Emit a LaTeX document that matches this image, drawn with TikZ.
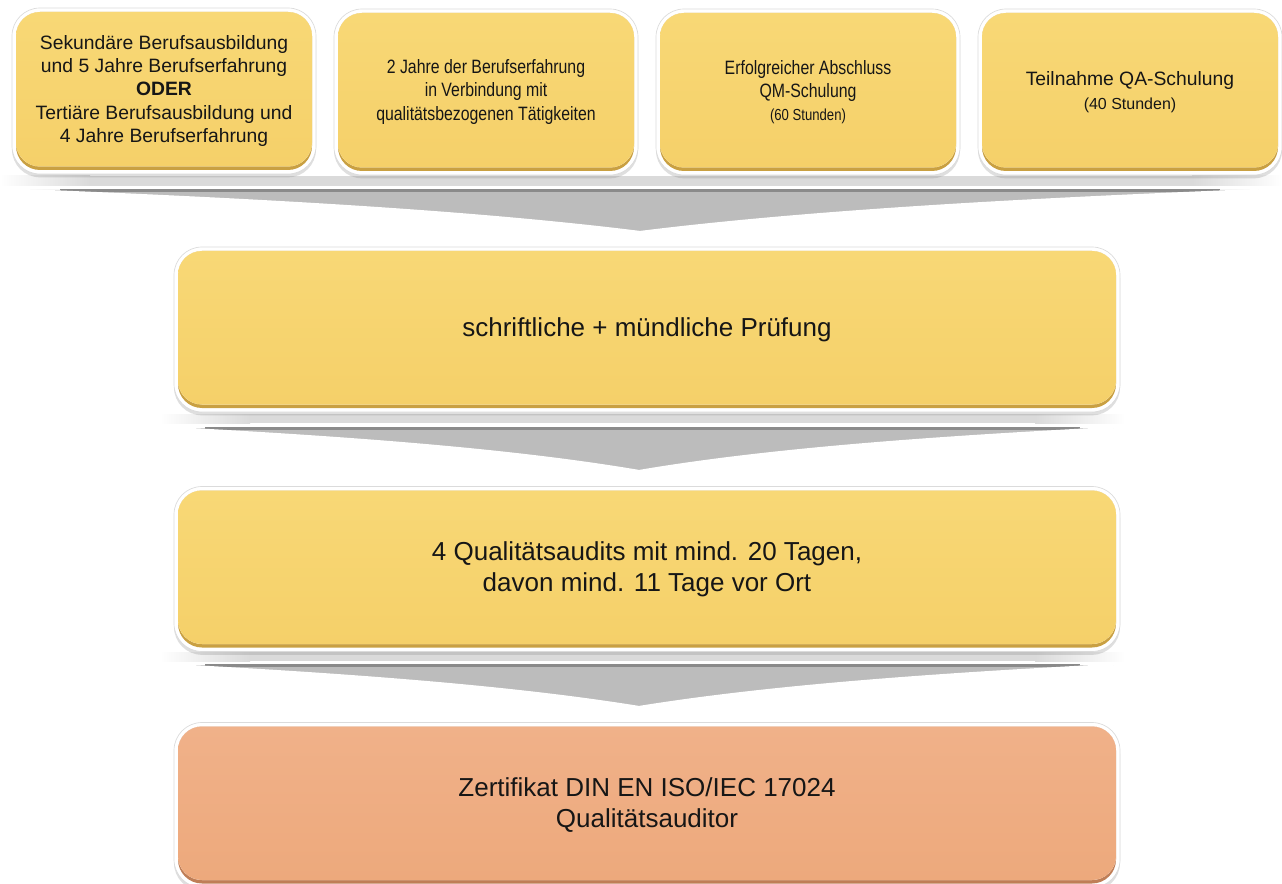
\documentclass[tikz,border=0pt]{standalone}
\usepackage{fontspec}
\setmainfont{Liberation Sans}
\newfontfamily\condfont[FakeStretch=0.82]{Liberation Sans}
\usetikzlibrary{shadows,calc}
\definecolor{ybody}{HTML}{F5D069}
\definecolor{ytop}{HTML}{F8D876}
\definecolor{yrim}{HTML}{C9A042}
\definecolor{obody}{HTML}{EDA97C}
\definecolor{otop}{HTML}{F0B189}
\definecolor{orim}{HTML}{BF7E57}
\definecolor{chevbody}{HTML}{BCBCBC}
\definecolor{chevtop}{HTML}{8A8A8A}
\definecolor{bandgray}{HTML}{DADADA}
\definecolor{txt}{HTML}{161616}
\newcommand\greyband[4]{%
  \fill[bandgray] (#3+90,#1) rectangle (#4-90,#2);
  \shade[left color=white, right color=bandgray] (#3,#1) rectangle (#3+90,#2);
  \shade[left color=bandgray, right color=white] (#4-90,#1) rectangle (#4,#2);}
\tikzset{
  card/.style={rectangle, fill=white, draw=black!14, line width=0.5pt,
    rounded corners=21pt, text=txt, align=center, inner sep=2pt,
    drop shadow={shadow xshift=0pt, shadow yshift=-2.5pt, opacity=0.25},
    path picture={
      \fill[#1rim, rounded corners=18pt]
        ([shift={(4,4)}]path picture bounding box.north west) rectangle
        ([shift={(-4,-4)}]path picture bounding box.south east);
      \fill[top color=#1top, bottom color=#1body, rounded corners=18pt]
        ([shift={(4,4)}]path picture bounding box.north west) rectangle
        ([shift={(-4,-7.5)}]path picture bounding box.south east);
    }},
  topcard/.style={card=y, minimum width=228pt, minimum height=124.5pt,
    font=\fontsize{14.5}{17.5}\selectfont},
  condcard/.style={card=y, minimum width=228pt, minimum height=124.5pt,
    font=\condfont\fontsize{14.5}{17.5}\selectfont},
  widecard/.style={card=#1, minimum width=709.5pt, minimum height=123.75pt,
    font=\fontsize{19.5}{23.4}\selectfont},
  chevfill/.style={fill=chevbody},
  chevline/.style={chevtop, line width=1.6pt},
  chevedge/.style={white, line width=1.6pt},
}
\begin{document}
\begin{tikzpicture}[x=0.75pt,y=-0.75pt]
\useasboundingbox (0,0) rectangle (1282,884);
\fill[white] (0,0) rectangle (1282,884);

% chevron 1
\greyband{176}{186}{0}{1282}
\fill[chevfill] (22,190) -- (1258,190) .. controls (1005,200) and (801,212) .. (640,232)
  .. controls (479,212) and (275,200) .. (22,190) -- cycle;
\draw[chevline] (60,190.5) -- (1220,190.5);
\draw[chevedge] (1258,190) .. controls (1005,200) and (801,212) .. (640,232)
  .. controls (479,212) and (275,200) .. (22,190);

% chevron 2
\greyband{414}{423}{160}{1125}
\fill[chevfill] (172,428) -- (1113,428) .. controls (919,438) and (763,450) .. (639,471)
  .. controls (515,450) and (359,438) .. (172,428) -- cycle;
\draw[chevline] (205,428.5) -- (1080,428.5);
\draw[chevedge] (1113,428) .. controls (919,438) and (763,450) .. (639,471)
  .. controls (515,450) and (359,438) .. (172,428);

% chevron 3
\greyband{652}{661}{160}{1125}
\fill[chevfill] (172,665) -- (1113,665) .. controls (919,675) and (763,687) .. (639,707)
  .. controls (515,687) and (359,675) .. (172,665) -- cycle;
\draw[chevline] (205,665.5) -- (1080,665.5);
\draw[chevedge] (1113,665) .. controls (919,675) and (763,687) .. (639,707)
  .. controls (515,687) and (359,675) .. (172,665);

% top row
\node[topcard] (q1) at (164,91) {Sekundäre Berufsausbildung\\und 5 Jahre Berufserfahrung\\\textbf{ODER}\\Tertiäre Berufsausbildung und\\4 Jahre Berufserfahrung};
\node[condcard] (q2) at (486,92) {2 Jahre der Berufserfahrung\\in Verbindung mit\\qualitätsbezogenen Tätigkeiten};
\node[condcard] (q3) at (808,92) {Erfolgreicher Abschluss\\QM-Schulung\\{\fontsize{12}{14.5}\selectfont(60 Stunden)}};
\node[topcard] (q4) at (1130,92) {Teilnahme QA-Schulung\\{\fontsize{12}{14.5}\selectfont(40 Stunden)}};

% main column
\node[widecard=y] (m1) at (647,329.5) {schriftliche + mündliche Prüfung};
\node[widecard=y] (m2) at (647,569) {4 Qualitätsaudits mit mind. 20 Tagen,\\davon mind. 11 Tage vor Ort};
\node[widecard=o] (m3) at (647,805) {Zertifikat DIN EN ISO/IEC 17024\\Qualitätsauditor};
\end{tikzpicture}
\end{document}
